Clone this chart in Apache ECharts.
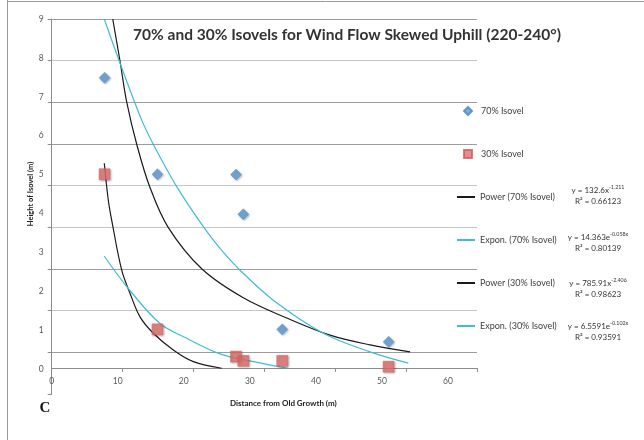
<!DOCTYPE html>
<html>
<head>
<meta charset="utf-8">
<script src="https://cdn.jsdelivr.net/npm/echarts@6/dist/echarts.min.js"></script>
<style>html,body{margin:0;padding:0;background:#fff;}#c{width:644px;height:440px;}</style>
</head>
<body>
<div id="c"></div>
<script>
// ---- data ----
const iso70X = [8.0, 16.0, 27.9, 29.0, 34.9, 51.0];
const iso70Y = [7.49, 5.01, 5.00, 3.98, 1.02, 0.70];
const iso30X = [8.0, 16.0, 27.9, 29.0, 34.9, 51.0];
const iso30Y = [5.01, 1.02, 0.32, 0.21, 0.21, 0.06];

const pow70X = [9.24, 10.34, 11.36, 12.87, 14.81, 17.61, 22.76, 29.01, 35.58, 42.13, 48.19, 54.25];
const pow70Y = [9.00, 7.92, 6.86, 5.78, 4.70, 3.65, 2.57, 1.83, 1.31, 0.87, 0.62, 0.44];
const exp70X = [7.96, 10.23, 13.63, 15.38, 18.93, 22.95, 25.48, 28.51, 33.55, 41.12, 48.19, 53.99];
const exp70Y = [9.00, 7.92, 6.40, 5.78, 4.69, 3.66, 3.10, 2.54, 1.77, 0.92, 0.44, 0.15];
const pow30X = [7.96, 8.57, 9.08, 10.60, 11.85, 13.37, 15.38, 18.41, 21.44, 25.74];
const pow30Y = [5.29, 4.34, 3.83, 2.54, 1.95, 1.34, 0.92, 0.49, 0.19, 0.02];
const exp30X = [7.96, 11.60, 16.40, 20.44, 25.48, 30.52, 35.78];
const exp30Y = [2.90, 2.07, 1.17, 0.79, 0.39, 0.19, 0.02];

const seriesNames = ['70% Isovel', '30% Isovel', 'Power (70% Isovel)', 'Expon. (70% Isovel)', 'Power (30% Isovel)', 'Expon. (30% Isovel)'];
const equations = [
  ['y = 132.6x', '-1.211', 'R² = 0.66123'],
  ['y = 14.363e', '-0.058x', 'R² = 0.80139'],
  ['y = 785.91x', '-2.406', 'R² = 0.98623'],
  ['y = 6.5591e', '-0.102x', 'R² = 0.93591']
];
const xTickLabels = [0, 10, 20, 30, 40, 50, 60];
const yTickLabels = [0, 1, 2, 3, 4, 5, 6, 7, 8, 9];

const zip = (xs, ys) => xs.map((x, i) => [x, ys[i]]);
const F = 'Lato, "Open Sans", sans-serif';
const dark = '#9c9c9c', light = '#c6c6c6';

const eqGraphics = [];
const eqY = [190, 237, 283, 326];
equations.forEach((e, i) => {
  eqGraphics.push({
    type: 'text', x: 598, y: eqY[i],
    style: {
      text: '{b|' + e[0] + '}{s|' + e[1] + '}',
      align: 'center', verticalAlign: 'middle',
      rich: {
        b: { fontSize: 8, fontFamily: F, fill: '#333', lineHeight: 10 },
        s: { fontSize: 5.3, fontFamily: F, fill: '#333', verticalAlign: 'top', lineHeight: 10 }
      }
    }
  });
  eqGraphics.push({
    type: 'text', x: 598, y: eqY[i] + 11,
    style: { text: e[2], align: 'center', verticalAlign: 'middle', font: '8px ' + F, fill: '#333' }
  });
});

const lineSeries = (idx, xs, ys, color) => ({
  name: seriesNames[idx], type: 'line', xAxisIndex: 0, yAxisIndex: 0, z: 3,
  smooth: 0.35, symbol: 'none', data: zip(xs, ys),
  lineStyle: { color: color, width: 1.2 }, itemStyle: { color: color }
});

const chart = echarts.init(document.getElementById('c'), null, { renderer: 'canvas' });
chart.setOption({
  animation: false,
  backgroundColor: '#fff',
  title: {
    text: '70% and 30% Isovels for Wind Flow Skewed Uphill (220-240°)',
    left: 347, top: 26, textAlign: 'center', padding: 0,
    textStyle: { fontFamily: F, fontSize: 15.5, fontWeight: 'bold', color: '#333', lineHeight: 18 }
  },
  legend: [
    {
      data: seriesNames.slice(0, 2), orient: 'vertical', left: 463, top: 106, padding: 0,
      itemWidth: 8, itemHeight: 8, itemGap: 33,
      textStyle: { fontFamily: F, fontSize: 9, color: '#404040', lineHeight: 10, padding: [0, 0, 0, 4] }
    },
    {
      data: seriesNames.slice(2), orient: 'vertical', left: 456, top: 192, padding: 0,
      itemWidth: 18, itemHeight: 10, itemGap: 33,
      itemStyle: { opacity: 0 },
      textStyle: { fontFamily: F, fontSize: 9, color: '#404040', lineHeight: 10, padding: [0, 0, 0, 0] }
    }
  ],
  grid: [
    { left: 51.7, top: 19, width: 396.3, height: 350 },
    { left: 51.7, top: 19, width: 425.3, height: 375 }
  ],
  xAxis: [
    {
      gridIndex: 0, type: 'value', min: 0, max: 60, interval: 10,
      axisLine: { show: false }, axisTick: { show: false }, splitLine: { show: false },
      axisLabel: { fontFamily: F, fontSize: 8.5, color: '#595959', margin: 8,
        formatter: v => (xTickLabels.indexOf(v) >= 0 ? String(v) : '') }
    },
    {
      gridIndex: 1, type: 'value', min: 0, max: 60, interval: 10, offset: -26,
      axisLine: { show: true, onZero: false, lineStyle: { color: '#8c8c8c', width: 1 } },
      axisTick: { show: true, inside: false, length: 4, lineStyle: { color: '#8c8c8c' } },
      axisLabel: { show: false }, splitLine: { show: false },
      name: 'Distance from Old Growth (m)', nameLocation: 'middle', nameGap: 31,
      nameTextStyle: { fontFamily: F, fontSize: 8, fontWeight: 'bold', color: '#222', padding: [0, 0, 0, 38] }
    }
  ],
  yAxis: [
    {
      gridIndex: 0, type: 'value', min: 0, max: 9, interval: 1,
      axisLine: { show: false }, axisTick: { show: false }, splitLine: { show: false },
      axisLabel: { fontFamily: F, fontSize: 8.5, color: '#595959', margin: 8,
        formatter: v => (yTickLabels.indexOf(v) >= 0 ? String(v) : '') },
      name: 'Height of Isovel (m)', nameLocation: 'middle', nameGap: 17, nameRotate: 90,
      nameMoveOverlap: false,
      nameTextStyle: { fontFamily: F, fontSize: 7.5, fontWeight: 'bold', color: '#222' }
    },
    {
      gridIndex: 1, type: 'value', min: 0, max: 9, interval: 1,
      axisLine: { show: true, lineStyle: { color: '#8c8c8c', width: 1 } },
      axisTick: { show: true, inside: false, length: 4, lineStyle: { color: '#8c8c8c' } },
      axisLabel: { show: false },
      splitLine: { show: true, lineStyle: { width: 1,
        color: ['rgba(0,0,0,0)', dark, light, dark, light, light, dark, dark, light, dark] } }
    }
  ],
  series: [
    {
      name: seriesNames[0], type: 'scatter', xAxisIndex: 0, yAxisIndex: 0, z: 5,
      symbol: 'diamond', symbolSize: 11, data: zip(iso70X, iso70Y),
      itemStyle: { color: '#5b9bd5', borderColor: '#4a86c0', borderWidth: 0.5,
        shadowBlur: 2, shadowColor: 'rgba(0,0,0,0.35)', shadowOffsetX: 1, shadowOffsetY: 1 }
    },
    {
      name: seriesNames[1], type: 'scatter', xAxisIndex: 0, yAxisIndex: 0, z: 5,
      symbol: 'rect', symbolSize: 11, data: zip(iso30X, iso30Y),
      itemStyle: { color: '#e46e6b', borderColor: '#c9605c', borderWidth: 0.5,
        shadowBlur: 2, shadowColor: 'rgba(0,0,0,0.35)', shadowOffsetX: 1, shadowOffsetY: 1 }
    },
    lineSeries(2, pow70X, pow70Y, '#1a1a1a'),
    lineSeries(3, exp70X, exp70Y, '#3fbcd4'),
    lineSeries(4, pow30X, pow30Y, '#1a1a1a'),
    lineSeries(5, exp30X, exp30Y, '#3fbcd4')
  ],
  graphic: [
    { type: 'line', shape: { x1: 7.5, y1: 0, x2: 7.5, y2: 440 }, style: { stroke: '#9a9a9a', lineWidth: 1 } },
    { type: 'line', shape: { x1: 7, y1: 1.5, x2: 644, y2: 1.5 }, style: { stroke: '#9a9a9a', lineWidth: 1 } },
    { type: 'text', x: 45, y: 408, style: { text: 'C', align: 'center', verticalAlign: 'middle',
      font: 'bold 15px "Liberation Serif", "DejaVu Serif", serif', fill: '#111' } }
  ].concat(eqGraphics)
});
</script>
</body>
</html>
